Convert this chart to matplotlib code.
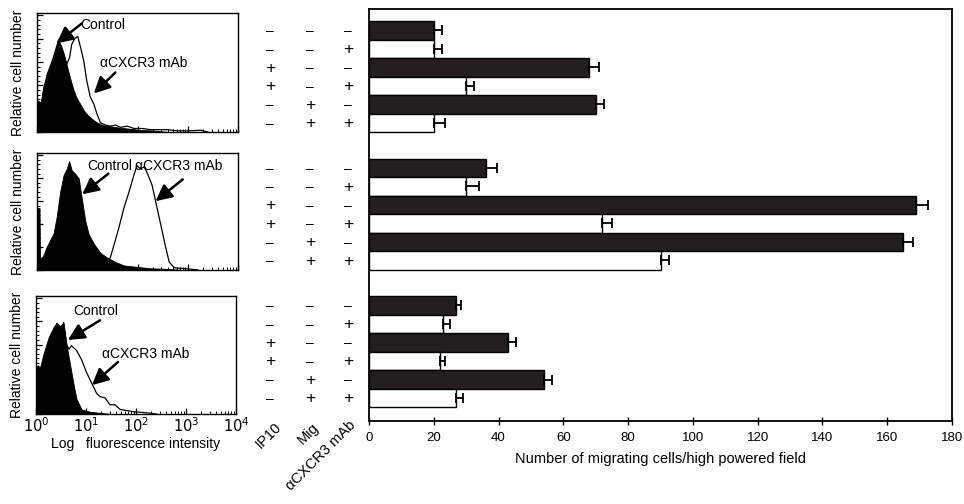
import numpy as np
import matplotlib
matplotlib.use("Agg")
import matplotlib.pyplot as plt
from matplotlib.transforms import blended_transform_factory

plt.rcParams['font.family'] = ['Liberation Sans', 'DejaVu Sans']

# ---------------- migration assay (bar chart) ----------------
ip10_signs = ['-', '-', '+', '+', '-', '-']
mig_signs = ['-', '-', '-', '-', '+', '+']
mab_signs = ['-', '+', '-', '+', '-', '+']
column_labels = ['IP10', 'Mig', 'αCXCR3 mAb']

migration_top = [20, 20, 68, 30, 70, 20]
error_top = [2.5, 2.5, 3.0, 2.5, 2.5, 3.5]
migration_mid = [36, 30, 169, 72, 165, 90]
error_mid = [3.5, 4.0, 3.5, 3.0, 3.0, 2.5]
migration_bot = [27, 23, 43, 22, 54, 27]
error_bot = [1.5, 2.0, 2.5, 1.5, 2.5, 2.0]

bar_xticks = [0, 20, 40, 60, 80, 100, 120, 140, 160, 180]
bar_xlabel = 'Number of migrating cells/high powered field'

# ---------------- flow cytometry histograms (log10 intensity, relative count) ----------------
ctrl1_x = [0.00, 0.05, 0.08, 0.12, 0.20, 0.26, 0.32, 0.38, 0.42, 0.48, 0.54, 0.60, 0.66, 0.72,
           0.78, 0.86, 0.94, 1.02, 1.10, 1.20, 1.30, 1.45, 1.60, 1.80, 2.00, 2.20, 2.40, 2.60]
ctrl1_y = [0.27, 0.26, 0.24, 0.38, 0.49, 0.56, 0.63, 0.72, 0.78, 0.74, 0.66, 0.56, 0.46, 0.37,
           0.30, 0.24, 0.18, 0.14, 0.11, 0.08, 0.06, 0.05, 0.04, 0.03, 0.02, 0.015, 0.01, 0.0]
mab1_x = [0.00, 0.08, 0.20, 0.32, 0.43, 0.52, 0.59, 0.65, 0.69, 0.75, 0.81, 0.87, 0.93, 0.99,
          1.06, 1.13, 1.19, 1.26, 1.36, 1.46, 1.56, 1.66, 1.80, 1.93, 2.10, 2.26, 2.45, 2.59,
          2.80, 3.00, 3.26, 3.40]
mab1_y = [0.27, 0.24, 0.49, 0.63, 0.79, 0.68, 0.58, 0.64, 0.75, 0.80, 0.82, 0.72, 0.61, 0.44,
          0.30, 0.24, 0.16, 0.08, 0.06, 0.05, 0.06, 0.04, 0.05, 0.03, 0.03, 0.02, 0.02, 0.02,
          0.01, 0.01, 0.015, 0.0]

ctrl2_x = [0.00, 0.05, 0.06, 0.12, 0.19, 0.26, 0.33, 0.39, 0.46, 0.53, 0.59, 0.64, 0.69, 0.76,
           0.83, 0.89, 0.96, 1.03, 1.13, 1.26, 1.39, 1.56, 1.73, 1.93, 2.26, 2.59, 2.90]
ctrl2_y = [0.54, 0.54, 0.10, 0.12, 0.20, 0.26, 0.32, 0.46, 0.68, 0.83, 0.88, 0.95, 0.87, 0.84,
           0.80, 0.63, 0.43, 0.31, 0.23, 0.15, 0.11, 0.07, 0.04, 0.03, 0.015, 0.01, 0.0]
mab2_x = [1.20, 1.39, 1.46, 1.56, 1.63, 1.73, 1.83, 1.93, 1.99, 2.06, 2.13, 2.19, 2.29, 2.36,
          2.46, 2.56, 2.63, 2.73, 3.00, 3.20]
mab2_y = [0.0, 0.04, 0.11, 0.26, 0.37, 0.54, 0.68, 0.83, 0.91, 0.88, 0.90, 0.85, 0.74, 0.60,
          0.40, 0.20, 0.07, 0.02, 0.01, 0.0]

ctrl3_x = [0.00, 0.04, 0.08, 0.15, 0.25, 0.35, 0.41, 0.48, 0.55, 0.61, 0.68, 0.75, 0.81, 0.91,
           1.08, 1.28, 1.50]
ctrl3_y = [0.41, 0.42, 0.40, 0.52, 0.66, 0.75, 0.79, 0.76, 0.79, 0.60, 0.43, 0.26, 0.13, 0.04,
           0.02, 0.01, 0.0]
mab3_x = [0.55, 0.61, 0.66, 0.71, 0.81, 0.91, 1.01, 1.11, 1.21, 1.28, 1.38, 1.48, 1.58, 1.68,
          1.81, 1.95, 2.21, 2.41]
mab3_y = [0.79, 0.60, 0.56, 0.59, 0.55, 0.47, 0.36, 0.27, 0.18, 0.15, 0.14, 0.08, 0.08, 0.04,
          0.03, 0.02, 0.01, 0.0]

flow_decades = [0, 1, 2, 3, 4]

# annotation placement per panel: (text_x, text_y, tail_x, tail_y, tip_x, tip_y)
ann_ctrl = [(0.86, 0.92, 0.89, 0.93, 0.39, 0.76),
            (1.00, 0.91, 1.42, 0.84, 0.90, 0.66),
            (0.74, 0.89, 1.28, 0.81, 0.64, 0.64)]
ann_mab = [(1.26, 0.59, 1.56, 0.51, 1.13, 0.33),
           (1.96, 0.91, 2.90, 0.79, 2.36, 0.60),
           (1.32, 0.52, 1.64, 0.45, 1.12, 0.25)]

W, H = 964, 504
fig = plt.figure(figsize=(W / 100, H / 100), dpi=100)


def frect(x0, y0, x1, y1):
    return [x0 / W, 1 - y1 / H, (x1 - x0) / W, (y1 - y0) / H]


# ---------- flow panels ----------
panels = [frect(37, 13, 238, 132), frect(37, 153, 238, 270), frect(36, 296, 236, 414)]
ctrl_data = [(ctrl1_x, ctrl1_y), (ctrl2_x, ctrl2_y), (ctrl3_x, ctrl3_y)]
mab_data = [(mab1_x, mab1_y), (mab2_x, mab2_y), (mab3_x, mab3_y)]

minor_pos = [d + np.log10(k) for d in flow_decades[:-1] for k in range(2, 10)]

for i, rect in enumerate(panels):
    a = fig.add_axes(rect)
    mx, my = mab_data[i]
    a.plot(mx, my, color='black', lw=0.9, zorder=2)
    cx, cy = ctrl_data[i]
    a.fill_between(cx, 0, cy, color='black', lw=0.6, zorder=3)
    a.set_xlim(0, 4)
    a.set_ylim(0, 1.02)
    a.set_xticks(flow_decades)
    a.set_xticks(minor_pos, minor=True)
    a.set_yticks(np.arange(0, 1.01, 0.2))
    a.set_yticks(np.arange(0, 1.01, 0.04), minor=True)
    a.tick_params(axis='both', which='major', direction='in', length=4, width=0.9,
                  labelleft=False, top=False, right=False)
    a.tick_params(axis='both', which='minor', direction='in', length=2.5, width=0.7,
                  top=False, right=False)
    if i == 2:
        a.set_xticklabels([f'$10^{{{d}}}$' for d in flow_decades], fontsize=10.5)
        a.tick_params(axis='x', pad=2)
        a.set_xlabel('Log   fluorescence intensity', fontsize=10, labelpad=1)
    else:
        a.set_xticklabels([])
    for s in a.spines.values():
        s.set_linewidth(1.0)
    a.set_ylabel('Relative cell number', fontsize=10, labelpad=5)
    tx, ty, ax0, ay0, ax1, ay1 = ann_ctrl[i]
    a.text(tx, ty, 'Control', fontsize=10, ha='left', va='center', zorder=5)
    a.annotate('', xy=(ax1, ay1), xytext=(ax0, ay0),
               arrowprops=dict(arrowstyle='-|>,head_length=0.7,head_width=0.35',
                               lw=1.8, color='black', shrinkA=0, shrinkB=0,
                               mutation_scale=14), zorder=5)
    tx, ty, ax0, ay0, ax1, ay1 = ann_mab[i]
    a.text(tx, ty, 'αCXCR3 mAb', fontsize=10, ha='left', va='center', zorder=5)
    a.annotate('', xy=(ax1, ay1), xytext=(ax0, ay0),
               arrowprops=dict(arrowstyle='-|>,head_length=0.7,head_width=0.35',
                               lw=1.8, color='black', shrinkA=0, shrinkB=0,
                               mutation_scale=14), zorder=5)

# ---------- bar chart ----------
ax = fig.add_axes(frect(369, 9, 952, 421))
group_vals = [migration_top, migration_mid, migration_bot]
group_errs = [error_top, error_mid, error_bot]
group_step = 7.43
for g, (vals, errs) in enumerate(zip(group_vals, group_errs)):
    ypos = [g * group_step + r for r in range(len(vals))]
    colors = ['#231f20' if r % 2 == 0 else 'white' for r in range(len(vals))]
    ax.barh(ypos, vals, height=1.0, color=colors, edgecolor='black', linewidth=1.0, zorder=2)
    ax.errorbar(vals, ypos, xerr=[[0] * len(errs), errs], fmt='none', ecolor='black',
                elinewidth=1.3, capsize=3.5, capthick=1.3, zorder=3)

ax.set_xlim(0, 180)
ax.set_ylim(21.1, -1.15)
ax.set_xticks(bar_xticks)
ax.set_xticklabels([str(t) for t in bar_xticks], fontsize=9.5)
ax.set_yticks([])
ax.tick_params(axis='x', direction='inout', length=6, width=1.0, pad=5)
ax.set_xlabel(bar_xlabel, fontsize=10.5, labelpad=6)
for s in ax.spines.values():
    s.set_linewidth(1.3)

# ---------- +/- condition table ----------
trans = blended_transform_factory(fig.transFigure, ax.transData)
col_x = [270 / W, 310 / W, 348 / W]
for g in range(3):
    for r in range(6):
        y = g * group_step + r
        for cx, signs in zip(col_x, [ip10_signs, mig_signs, mab_signs]):
            s = signs[r]
            ax.text(cx, y + 0.05, '+' if s == '+' else '\u2013', transform=trans, ha='center',
                    va='center', fontsize=12.5 if s == '+' else 10, clip_on=False)

label_anchor = [(274, 420), (312, 420), (348, 418)]
for (lx, ly), lab in zip(label_anchor, column_labels):
    fig.text(lx / W, 1 - ly / H, lab, rotation=45, rotation_mode='anchor',
             ha='right', va='top', fontsize=10.5)

fig.savefig('out.png', dpi=100)
